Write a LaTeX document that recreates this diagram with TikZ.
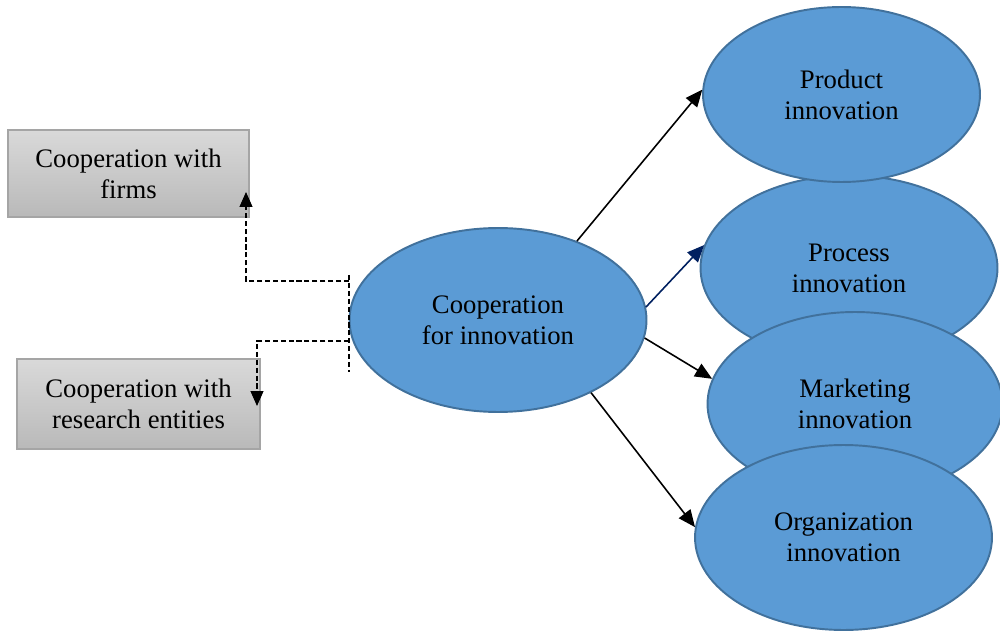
\documentclass[tikz,border=0pt]{standalone}
\usepackage{fontspec}
\setmainfont{Liberation Serif}
\usetikzlibrary{shapes.geometric,arrows.meta}

\definecolor{blobfill}{HTML}{5B9BD5}
\definecolor{blobline}{HTML}{41719C}
\definecolor{boxtop}{HTML}{D9D9D9}
\definecolor{boxbot}{HTML}{B9B9B9}
\definecolor{boxline}{HTML}{A5A5A5}
\definecolor{navy}{HTML}{002060}

\tikzset{
  blob/.style={ellipse, draw=blobline, line width=1.1pt, fill=blobfill,
    inner sep=0pt, align=center, font=\fontsize{15.2}{17.6}\selectfont},
  graybox/.style={rectangle, draw=boxline, line width=0.8pt,
    top color=boxtop, bottom color=boxbot, inner sep=0pt, align=center,
    font=\fontsize{15.2}{17.6}\selectfont},
  flow/.style={line width=0.9pt, -{Triangle[length=0.34cm,width=0.29cm]}},
  dashlink/.style={line width=0.65pt, dash pattern=on 2.9pt off 1.6pt},
  dasharrow/.style={dashlink, -{Triangle[length=0.3cm,width=0.26cm]}}
}

\begin{document}
\begin{tikzpicture}[x=0.02cm, y=-0.02cm]
  \useasboundingbox (0,0) rectangle (1000,631);

  % central ellipse
  \node[blob, minimum width=5.94cm, minimum height=3.68cm] (coop) at (498,320)
    {Cooperation\\for innovation};

  % outcome ellipses (stacked, later ones overlap earlier ones)
  \node[blob, minimum width=5.94cm, minimum height=3.7cm] (proc) at (849,268)
    {Process\\innovation};
  \node[blob, minimum width=5.54cm, minimum height=3.5cm] (prod) at (841.5,94.5)
    {Product\\innovation};
  \node[blob, minimum width=5.9cm, minimum height=3.68cm] (mark) at (855,404)
    {Marketing\\innovation};
  \node[blob, minimum width=5.94cm, minimum height=3.7cm] (org) at (843.5,537.5)
    {Organization\\innovation};

  % partner boxes
  \node[graybox, minimum width=4.82cm, minimum height=1.74cm] (firms) at (128.5,173.5)
    {Cooperation with\\firms};
  \node[graybox, minimum width=4.86cm, minimum height=1.8cm] (research) at (138.5,404)
    {Cooperation with\\research entities};

  % arrows to the outcomes
  \draw[flow] (coop.45) -- (prod.178);
  \draw[flow, draw=navy, fill=navy] (coop.5) -- (proc.171);
  \draw[flow] (coop.-7) -- (mark.170);
  \draw[flow] (coop.-38) -- (org.176);

  % dashed links to the partner boxes
  \coordinate (bartop) at (349,275);
  \coordinate (barbot) at (349,372);
  \coordinate (jfirms) at (349,281);
  \coordinate (jres) at (349,341);
  \coordinate (tipfirms) at (246,192);
  \coordinate (tipres) at (257,406);
  \draw[dashlink] (bartop) -- (barbot);
  \draw[dasharrow] (jfirms) -| (tipfirms);
  \draw[dasharrow] (jres) -| (tipres);
\end{tikzpicture}
\end{document}
